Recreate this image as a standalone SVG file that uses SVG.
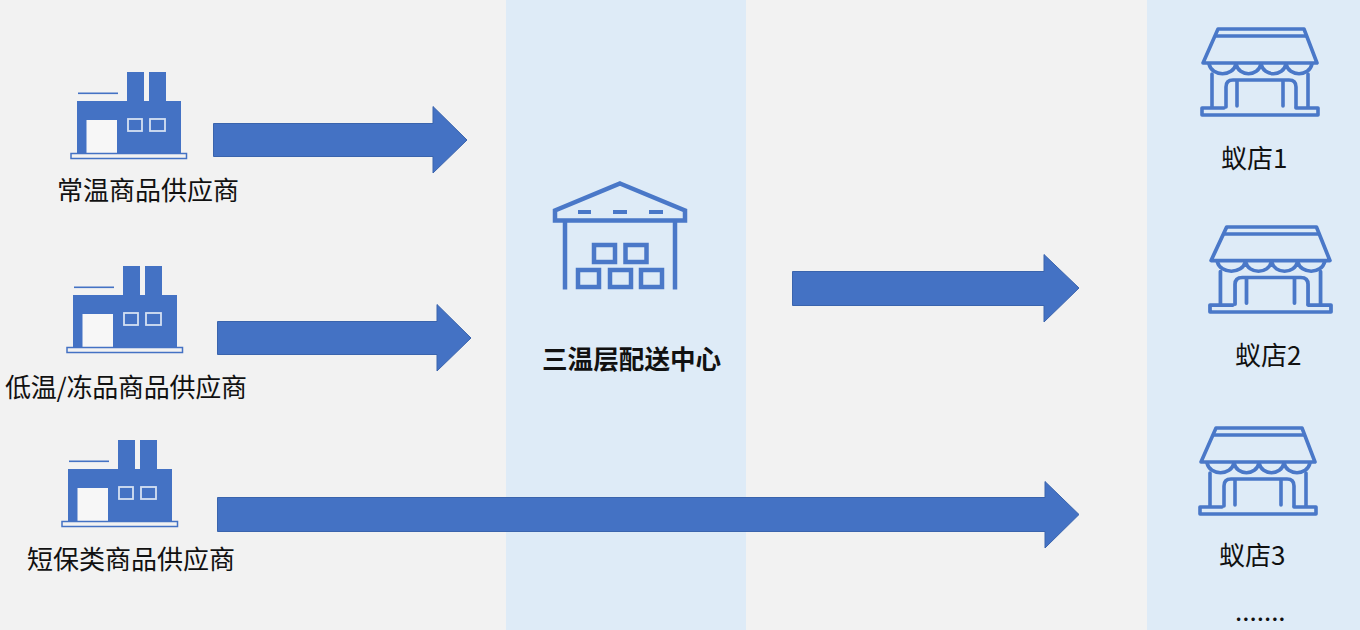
<svg xmlns="http://www.w3.org/2000/svg" width="1360" height="630" viewBox="0 0 1360 630">
<style>
text{font-family:"Noto Sans CJK SC","Noto Sans",sans-serif;font-size:26px;fill:#111}
.b{font-weight:700;font-size:25.6px}
.arrow{fill:#4472c4;stroke:#3a64ad;stroke-width:1}
.solid{fill:#4472c4}
.pale{fill:#f2f2f2;stroke:#4472c4;stroke-width:1.5}
.wl{fill:none;stroke:#4a78c8;stroke-width:4.500}
.st{fill:none;stroke:#4a78c8;stroke-width:3.600;stroke-linejoin:round;stroke-linecap:round}
</style>
<defs>
<g id="factory">
<rect class="solid" x="77" y="101" width="104" height="53"/>
<rect class="solid" x="127" y="72" width="17" height="30"/>
<rect class="solid" x="149" y="72" width="17" height="30"/>
<rect class="solid" x="78" y="92.500" width="40" height="1.600"/>
<rect x="86.500" y="120" width="30.500" height="33" fill="#f7f7f7"/>
<rect x="128" y="119" width="14" height="12" fill="#4472c4" stroke="#d5e0f2" stroke-width="1.800"/>
<rect x="150" y="119" width="15" height="12" fill="#4472c4" stroke="#d5e0f2" stroke-width="1.800"/>
<rect class="pale" x="71" y="153.500" width="115.500" height="5"/>
</g>
<g id="store">
<path class="st" d="M1218 29H1304L1317 63H1203Z"/>
<path class="st" d="M1216 36H1306" stroke-width="3"/>
<path class="st" d="M1209 64C1212 77 1233 77 1236 64C1239 77 1258 77 1261 64C1264 77 1283 77 1286 64C1289 77 1309 77 1312 64"/>
<path class="st" d="M1212 74V107M1308 74V107"/>
<path class="st" d="M1226 107V87Q1226 80 1233 80H1289Q1296 80 1296 87V107"/>
<path class="st" d="M1237 81V106M1283 81V106"/>
<path class="st" d="M1224 108H1202V115H1318V108H1296"/>
</g>
</defs>
<rect id="background" width="1360" height="630" fill="#f2f2f2"/>
<rect id="column-center" x="506" width="240" height="630" fill="#deebf7"/>
<rect id="column-right" x="1147" width="213" height="630" fill="#deebf7"/>
<g id="connectors">
<path class="arrow" d="M213.500 123.500H433V106.500L467 140L433 173V156.500H213.500Z"/>
<path class="arrow" d="M217.500 321.500H437V304.500L471 338L437 371V354.500H217.500Z"/>
<path class="arrow" d="M792.500 271.500H1044V254.500L1079 288L1044 322V305.500H792.500Z"/>
<path class="arrow" d="M217.500 497.500H1045V481.500L1079 514.500L1045 548V531.500H217.500Z"/>
</g>
<g id="supplier-ambient"><use href="#factory"/><text x="57" y="200">常温商品供应商</text></g>
<g id="supplier-frozen"><use href="#factory" x="-4" y="194"/><text x="5" y="397" textLength="242">低温/冻品商品供应商</text></g>
<g id="supplier-short"><use href="#factory" x="-9" y="368"/><text x="27" y="569">短保类商品供应商</text></g>
<g id="distribution-center">
<path class="wl" d="M620 183.500L685 210.500V220.500H555V210.500Z"/>
<path class="wl" d="M565 221V289.500M675 221V289.500" stroke-width="5"/>
<path d="M578 212h13M613 212h14M649 212h14" stroke="#4a78c8" stroke-width="4" fill="none"/>
<rect class="wl" x="594" y="245" width="21" height="17"/>
<rect class="wl" x="625.500" y="245" width="21" height="17"/>
<rect class="wl" x="578" y="270" width="21" height="17"/>
<rect class="wl" x="610" y="270" width="21" height="17"/>
<rect class="wl" x="641" y="270" width="21" height="17"/>
<text class="b" x="542" y="369">三温层配送中心</text>
</g>
<g id="store-1"><use href="#store"/><text x="1221" y="168">蚁店1</text></g>
<g id="store-2"><use href="#store" transform="translate(1210 226) scale(1.043 0.989) translate(-1202 -28)"/><text x="1235" y="365">蚁店2</text></g>
<g id="store-3"><use href="#store" x="-2" y="399"/><text x="1219" y="565">蚁店3</text></g>
<text id="more" x="1235" y="621">.......</text>
</svg>
